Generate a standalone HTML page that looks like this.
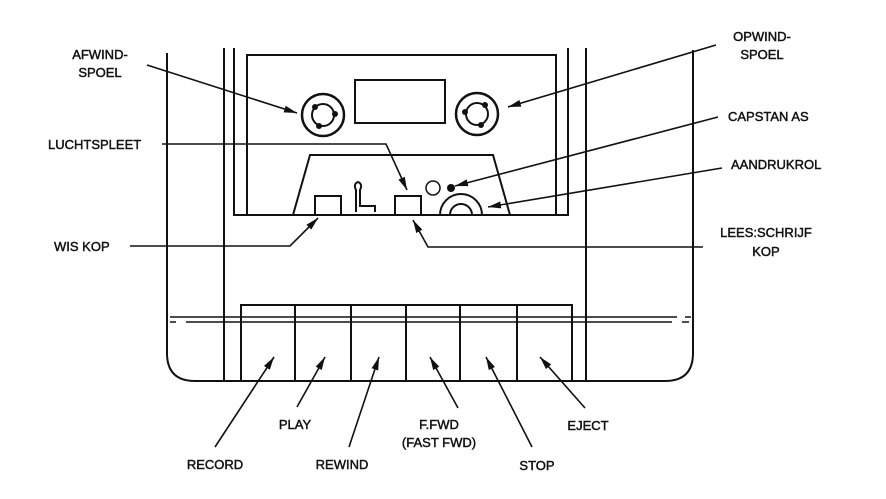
<!DOCTYPE html>
<html><head><meta charset="utf-8"><style>
html,body{margin:0;padding:0;background:#fff;}
svg{display:block;}
text{font-family:"Liberation Sans",Arial,sans-serif;font-size:13px;fill:#111;stroke:#111;stroke-width:0.45;}
</style></head><body>
<svg width="886" height="499" viewBox="0 0 886 499" xmlns="http://www.w3.org/2000/svg">
<defs>
<marker id="a" viewBox="0 0 13 7" refX="13" refY="3.5" markerWidth="13" markerHeight="7" markerUnits="userSpaceOnUse" orient="auto">
<path d="M0,0 L13,3.5 L0,7 Z" fill="#111"/>
</marker>
</defs>
<g stroke="#111" stroke-width="2" fill="none">
<path d="M167,53 V353 Q167,381 195,381 H665 Q693,381 693,353 V50"/>
<line x1="224" y1="48" x2="224" y2="381"/>
<line x1="586" y1="48" x2="586" y2="381"/>
<path d="M234,48 V215 H568 V48"/>
<path d="M247,215 V55 H556 V215"/>
<rect x="355" y="80" width="90" height="43"/>
<circle cx="323" cy="115" r="21" stroke-width="2.5"/>
<circle cx="323" cy="115" r="11"/>
<circle cx="477" cy="114" r="21" stroke-width="2.5"/>
<circle cx="477" cy="114" r="11"/>
<path d="M293,215 L310,155 H493 L510,215"/>
<path d="M315,215 V196 H341 V215"/>
<path d="M395,215 V196 H421 V215"/>
<circle cx="433" cy="188" r="7" stroke-width="1.5"/>
<path d="M440,215 A21,21 0 0 1 482,215"/>
<path d="M450,215 A11,11 0 0 1 472,215"/>
<path d="M356,212 V190 Q353,184 358,182 Q363,184 360,190 V206 H375 V212"/>
<path d="M241,381 V305 H572 V381"/>
<line x1="295" y1="305" x2="295" y2="381"/>
<line x1="351" y1="305" x2="351" y2="381"/>
<line x1="406" y1="305" x2="406" y2="381"/>
<line x1="460" y1="305" x2="460" y2="381"/>
<line x1="517" y1="305" x2="517" y2="381"/>
<line x1="170" y1="317" x2="677" y2="317" stroke-width="1.5"/>
<line x1="685" y1="317" x2="691" y2="317" stroke-width="1.5"/>
<line x1="170" y1="322" x2="176" y2="322" stroke-width="1.5"/>
<line x1="186" y1="322" x2="672" y2="322" stroke-width="1.5"/>
<line x1="682" y1="322" x2="689" y2="322" stroke-width="1.5"/>
<g stroke-width="1.6">
<line x1="147" y1="65" x2="297" y2="113" marker-end="url(#a)"/>
<polyline points="162,144 386,144 407,190" marker-end="url(#a)"/>
<polyline points="130,246 290,246 318,218" marker-end="url(#a)"/>
<line x1="716" y1="45" x2="508" y2="107" marker-end="url(#a)"/>
<line x1="718" y1="117" x2="455" y2="186" marker-end="url(#a)"/>
<line x1="722" y1="168" x2="488" y2="207" marker-end="url(#a)"/>
<polyline points="703,247 428,247 413,220" marker-end="url(#a)"/>
<line x1="215" y1="447" x2="274" y2="357" marker-end="url(#a)"/>
<line x1="297" y1="407" x2="325" y2="357" marker-end="url(#a)"/>
<line x1="349" y1="447" x2="379" y2="357" marker-end="url(#a)"/>
<line x1="458" y1="408" x2="430" y2="357" marker-end="url(#a)"/>
<line x1="532" y1="447" x2="486" y2="357" marker-end="url(#a)"/>
<line x1="585" y1="408" x2="540" y2="357" marker-end="url(#a)"/>
</g>
</g>
<g fill="#111">
<circle cx="315" cy="107" r="3"/><circle cx="335" cy="114" r="3"/><circle cx="319" cy="126" r="3"/>
<circle cx="485" cy="105" r="3"/><circle cx="465" cy="112" r="3"/><circle cx="481" cy="125" r="3"/>
<circle cx="451" cy="188" r="4"/>
</g>
<g text-anchor="middle">
<text x="100" y="59">AFWIND-</text>
<text x="100" y="77">SPOEL</text>
<text x="762" y="41">OPWIND-</text>
<text x="762" y="59">SPOEL</text>
<text x="766" y="237">LEES:SCHRIJF</text>
<text x="766" y="256">KOP</text>
<text x="215" y="469">RECORD</text>
<text x="295" y="429">PLAY</text>
<text x="342" y="469">REWIND</text>
<text x="439" y="429">F.FWD</text>
<text x="439" y="447">(FAST FWD)</text>
<text x="537" y="470">STOP</text>
<text x="588" y="430">EJECT</text>
</g>
<text x="48" y="149">LUCHTSPLEET</text>
<text x="54" y="251">WIS KOP</text>
<text x="728" y="121">CAPSTAN AS</text>
<text x="731" y="169">AANDRUKROL</text>
</svg>
</body></html>
